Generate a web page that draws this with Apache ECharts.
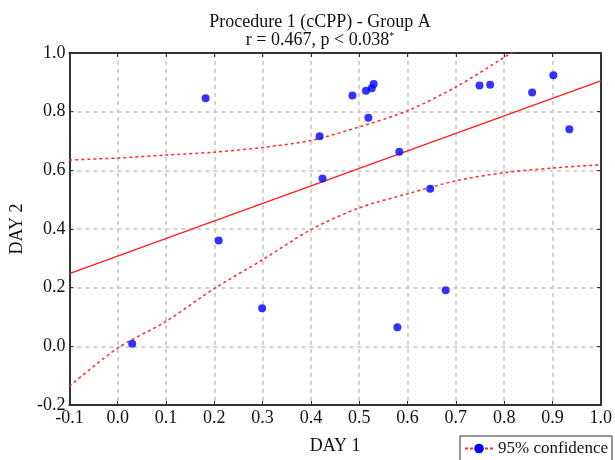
<!DOCTYPE html>
<html>
<head>
<meta charset="utf-8">
<script src="https://cdn.jsdelivr.net/npm/echarts@6/dist/echarts.min.js"></script>
<style>html,body{margin:0;padding:0;background:#fff}#c{width:615px;height:460px}</style>
</head>
<body>
<div id="c"></div>
<script>
// Scatter data (DAY 1 vs DAY 2)
var day1 = [0.030, 0.182, 0.209, 0.299, 0.418, 0.424, 0.486, 0.514, 0.519, 0.526, 0.530, 0.583, 0.579, 0.647, 0.679, 0.749, 0.771, 0.858, 0.902, 0.935];
var day2 = [0.009, 0.846, 0.361, 0.130, 0.716, 0.572, 0.855, 0.871, 0.779, 0.880, 0.894, 0.663, 0.065, 0.537, 0.191, 0.889, 0.892, 0.865, 0.924, 0.740];
// Regression line
var fitX = [-0.1, 0.246, 1.0];
var fitY = [0.248, 0.455, 0.905];
// 95% confidence bands
var bandX = [-0.1, 0.0, 0.1, 0.2, 0.3, 0.4, 0.5, 0.6, 0.7, 0.8, 0.9, 1.0];
var upperY = [0.635, 0.642, 0.652, 0.662, 0.678, 0.702, 0.748, 0.803, 0.884, 0.985, 1.09, 1.20];
var lowerY = [-0.136, -0.006, 0.085, 0.197, 0.295, 0.398, 0.472, 0.520, 0.564, 0.592, 0.608, 0.619];
// Axis ticks
var xMin = -0.1, xMax = 1.0, xStep = 0.1;
var yMin = -0.2, yMax = 1.0, yStep = 0.2;

function zip(a, b) { return a.map(function (v, i) { return [v, b[i]]; }); }

var font = 'Liberation Serif';
var chart = echarts.init(document.getElementById('c'), null, {renderer: 'canvas'});
var gridLine = {show: true, showMinLine: false, showMaxLine: false, lineStyle: {color: '#c4c4c4', width: 1.5, type: [4, 4]}};
var frame = {show: true, onZero: false, lineStyle: {color: '#333', width: 2}};
var tick = {show: true, inside: true, length: 4, lineStyle: {color: '#333'}};
chart.setOption({
  animation: false,
  backgroundColor: '#fff',
  title: {
    text: 'Procedure 1 (cCPP) - Group A',
    subtext: 'r = 0.467, p < 0.038{s|*}',
    left: 315, textAlign: 'center', top: 8, itemGap: 0,
    textStyle: {fontFamily: font, fontSize: 18, fontWeight: 'normal', color: '#111'},
    subtextStyle: {fontFamily: font, fontSize: 18, color: '#111', rich: {s: {fontFamily: font, fontSize: 10, verticalAlign: 'top', padding: [0, 0, 8, 0], color: '#111'}}}
  },
  grid: {left: 58.5, right: 12, top: 53, bottom: 43.5, show: false},
  legend: {
    right: 3, bottom: -3, orient: 'horizontal',
    borderColor: '#333', borderWidth: 1, padding: [4, 4, 6, 4],
    itemWidth: 28, itemHeight: 12,
    textStyle: {fontFamily: font, fontSize: 17, color: '#111'},
    data: ['95% confidence']
  },
  xAxis: [{
    type: 'value', min: xMin, max: xMax, interval: xStep,
    name: 'DAY 1', nameLocation: 'middle', nameGap: 32,
    nameTextStyle: {fontFamily: font, fontSize: 18, color: '#111'},
    axisLine: frame, axisTick: tick,
    axisLabel: {fontFamily: font, fontSize: 18, color: '#111', margin: 4, formatter: function (v) { return v.toFixed(1); }},
    splitLine: gridLine
  }, {
    type: 'value', min: xMin, max: xMax, interval: xStep, position: 'top',
    axisLine: frame, axisTick: tick,
    axisLabel: {show: false}, splitLine: {show: false}
  }],
  yAxis: [{
    type: 'value', min: yMin, max: yMax, interval: yStep,
    name: 'DAY 2', nameLocation: 'middle', nameGap: 40,
    nameTextStyle: {fontFamily: font, fontSize: 18, color: '#111'},
    axisLine: frame, axisTick: tick,
    axisLabel: {fontFamily: font, fontSize: 18, color: '#111', margin: 4, formatter: function (v) { return v.toFixed(1); }},
    splitLine: gridLine
  }, {
    type: 'value', min: yMin, max: yMax, interval: yStep, position: 'right',
    axisLine: frame, axisTick: tick,
    axisLabel: {show: false}, splitLine: {show: false}
  }],
  series: [{
    name: 'upper', type: 'line', data: zip(bandX, upperY), showSymbol: false, symbol: 'none', clip: true, smooth: 0.3,
    lineStyle: {color: '#ff2a2a', width: 1.5, type: [3, 3]}, z: 3
  }, {
    name: 'lower', type: 'line', data: zip(bandX, lowerY), showSymbol: false, symbol: 'none', clip: true, smooth: 0.3,
    lineStyle: {color: '#ff2a2a', width: 1.5, type: [3, 3]}, z: 3
  }, {
    name: 'fit', type: 'line', data: zip(fitX, fitY), showSymbol: false, symbol: 'none', clip: true,
    lineStyle: {color: '#ff2020', width: 1.5}, z: 3
  }, {
    name: 'data', type: 'scatter', data: zip(day1, day2), symbol: 'circle', symbolSize: 8,
    itemStyle: {color: '#0000ff'}, z: 4
  }, {
    name: '95% confidence', type: 'line', data: [], symbol: 'circle', symbolSize: 7,
    itemStyle: {color: '#0000ff'}, lineStyle: {color: '#ff2a2a', width: 1.5, type: [3, 2]}
  }]
});
</script>
</body>
</html>
